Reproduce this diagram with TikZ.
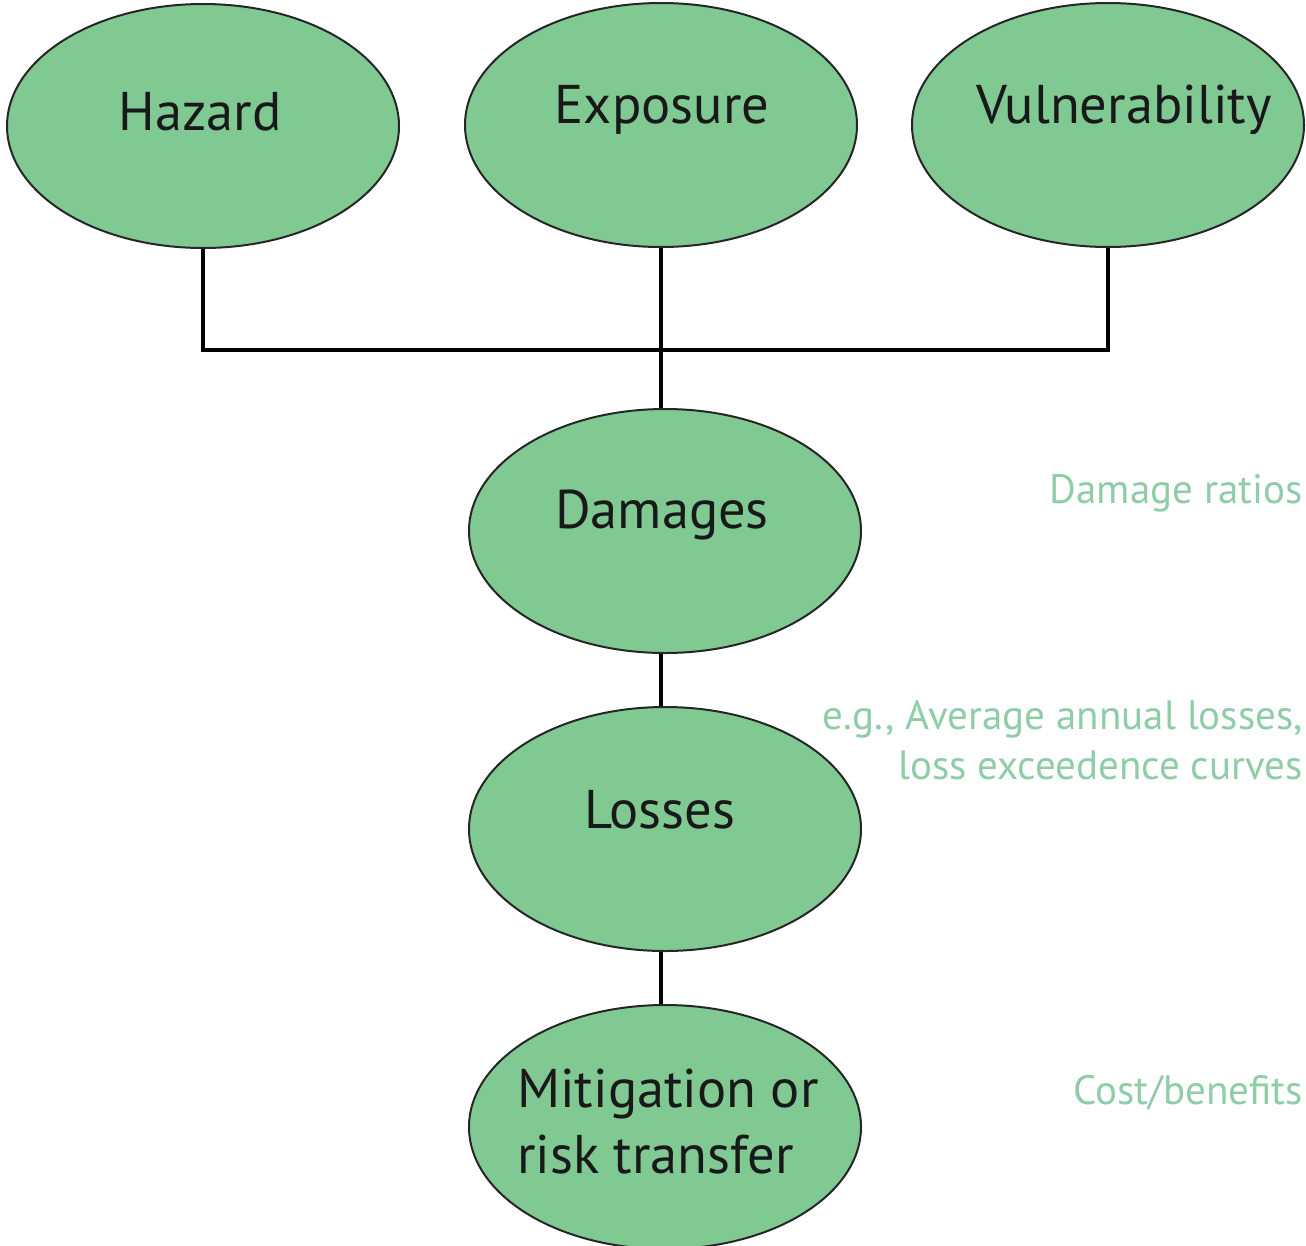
\documentclass[tikz,border=0pt]{standalone}
\usepackage{fontspec}
\setmainfont{PT Sans}
\usetikzlibrary{shapes.geometric}
\definecolor{nodefill}{HTML}{80C993}
\definecolor{notecol}{HTML}{8ECDA5}
\tikzset{
  blob/.style={ellipse, draw=black!85, line width=2pt, fill=nodefill, minimum width=392pt, minimum height=244pt, inner sep=0pt},
  maintext/.style={font=\fontsize{54.5}{66}\selectfont, text=black!90, inner sep=0pt},
  notetext/.style={font=\fontsize{41}{50}\selectfont, text=notecol, inner sep=0pt, anchor=east, align=right},
  link/.style={line width=4pt, black}
}
\begin{document}
\begin{tikzpicture}[x=1pt,y=-1pt]
\useasboundingbox (0,0) rectangle (1306,1245);
\node[blob] (haz) at (203,126) {};
\node[blob] (exp) at (661,125) {};
\node[blob] (vul) at (1108,125) {};
\node[blob] (dam) at (665,531) {};
\node[blob] (los) at (665,829) {};
\node[blob] (mit) at (665,1127) {};
\coordinate (j) at (661,350);
\draw[link] (haz.south) |- (vul.south |- j) -- (vul.south);
\draw[link] (exp.south) -- (exp.south |- dam.north);
\draw[link] (exp.south |- dam.south) -- (exp.south |- los.north);
\draw[link] (exp.south |- los.south) -- (exp.south |- mit.north);
\node[maintext] (thaz) at (200,112) {Hazard};
\node[maintext] (texp) at (662,110) {Exposure};
\node[maintext] (tvul) at (1124,110) {Vulnerability};
\node[maintext] (tdam) at (662,515) {Damages};
\node[maintext] (tlos) at (660,810) {Losses};
\node[maintext, align=left, anchor=west] (tmit) at (517,1122) {Mitigation or\\risk transfer};
\node[notetext] (ndam) at (1303,493) {Damage ratios};
\node[notetext] (nlos) at (1303,740) {e.g., Average annual losses,\\loss exceedence curves};
\node[notetext] (nmit) at (1303,1093) {Cost/benefits};
\end{tikzpicture}
\end{document}
